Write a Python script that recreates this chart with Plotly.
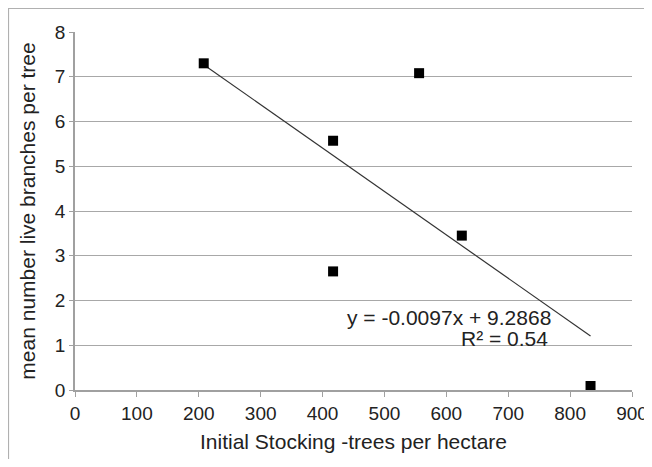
import plotly.graph_objects as go

stocking = [208, 417, 417, 556, 625, 833]
branches = [7.30, 5.57, 2.65, 7.08, 3.45, 0.09]
slope = -0.0097
intercept = 9.2868
r2 = 0.54
x_ticks = [0, 100, 200, 300, 400, 500, 600, 700, 800, 900]
y_ticks = [0, 1, 2, 3, 4, 5, 6, 7, 8]

trend_x = [min(stocking), max(stocking)]
trend_y = [slope * v + intercept for v in trend_x]

font = "Liberation Sans, Arial, sans-serif"

fig = go.Figure()
fig.add_trace(go.Scatter(x=trend_x, y=trend_y, mode="lines",
                         line=dict(color="#333333", width=1.2), showlegend=False))
fig.add_trace(go.Scatter(x=stocking, y=branches, mode="markers",
                         marker=dict(symbol="square", size=10, color="black"),
                         showlegend=False))

fig.add_annotation(x=604, y=1.63, text=f"y = {slope}x + {intercept}", showarrow=False,
                   font=dict(family=font, size=21, color="#222"), xanchor="center", yanchor="middle")
fig.add_annotation(x=768, y=1.16, text=f"R² = {r2}", showarrow=False,
                   font=dict(family=font, size=21, color="#222"), xanchor="right", yanchor="middle")

# outer chart border
fig.add_shape(type="rect", xref="paper", yref="paper", x0=-0.1194, x1=1.3, y0=-0.4, y1=1.0656,
              line=dict(color="#b0b0b0", width=1.2), fillcolor="rgba(0,0,0,0)", layer="below")

fig.update_layout(
    width=644, height=451,
    margin=dict(l=67, r=20, t=24, b=69, autoexpand=False),
    paper_bgcolor="white", plot_bgcolor="white",
    font=dict(family=font, size=19, color="#222"),
    xaxis=dict(range=[0, 900], tickvals=x_ticks, showgrid=False, zeroline=False,
               showline=True, linecolor="#a0a0a0", linewidth=1.5,
               ticks="outside", ticklen=5, tickcolor="#a0a0a0", automargin=False,
               title=dict(text="Initial Stocking -trees per hectare", standoff=12,
                          font=dict(family=font, size=21, color="#222")),
               tickfont=dict(size=19)),
    yaxis=dict(range=[0, 8], tickvals=y_ticks, showgrid=True, gridcolor="#a8a8a8", gridwidth=1.2,
               zeroline=False, showline=True, linecolor="#a0a0a0", linewidth=1.5,
               ticks="outside", ticklen=4, tickcolor="#a0a0a0", automargin=False,
               title=dict(text="mean number live branches per tree", standoff=14,
                          font=dict(family=font, size=21, color="#222")),
               tickfont=dict(size=19)),
)

fig.write_html("out.html")
